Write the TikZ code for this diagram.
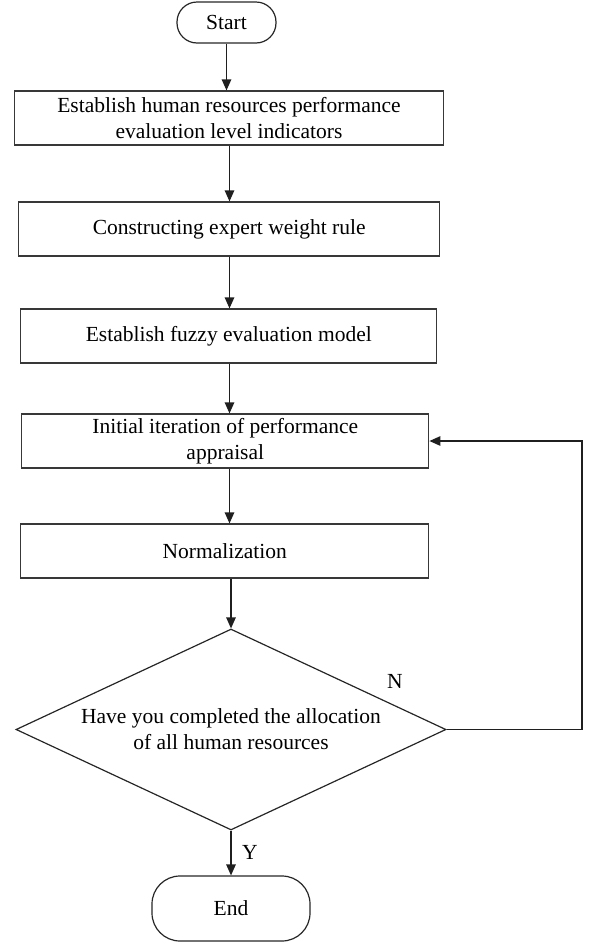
\documentclass[tikz,border=0pt]{standalone}
\usepackage{fontspec}
\setmainfont{Liberation Serif}
\usetikzlibrary{shapes.geometric,arrows.meta,calc}
\begin{document}
\begin{tikzpicture}[x=1pt,y=1pt,
  font=\fontsize{21.5}{26}\selectfont,
  line width=1.2pt,
  box/.style={draw=black!78, minimum height=54pt, inner sep=0pt, align=center},
  term/.style={draw=black!85, inner sep=0pt, align=center},
  arr/.style={draw=black!88, -{Triangle[length=11pt,width=9.5pt]}}]
\useasboundingbox (0,0) rectangle (590,-943);
\node[term, minimum width=99pt, minimum height=41pt, rounded corners=20pt] (start) at (226.5,-22.5) {Start};
\node[box, minimum width=429pt] (b1) at (229,-118) {Establish human resources performance\\evaluation level indicators};
\node[box, minimum width=421pt] (b2) at (229.2,-229) {Constructing expert weight rule};
\node[box, minimum width=416pt] (b3) at (228.8,-336) {Establish fuzzy evaluation model};
\node[box, minimum width=407pt] (b4) at (225.3,-441) {Initial iteration of performance\\appraisal};
\node[box, minimum width=408pt] (b5) at (224.8,-551) {Normalization};
\node[draw=black!85, diamond, minimum width=430pt, minimum height=201pt, aspect=2.14, inner sep=0pt, align=center] (d) at (231,-729.5) {Have you completed the allocation\\of all human resources};
\node[term, minimum width=158pt, minimum height=65pt, rounded corners=28pt] (end) at (231,-908.5) {End};
\node (nl) at (395,-681) {N};
\node (yl) at (250,-852) {Y};
\coordinate (ax) at (229.5,0);
\coordinate (lp) at (582,-441);
\draw[arr] (start.south) -- (start.south |- b1.north);
\draw[arr] (ax |- b1.south) -- (ax |- b2.north);
\draw[arr] (ax |- b2.south) -- (ax |- b3.north);
\draw[arr] (ax |- b3.south) -- (ax |- b4.north);
\draw[arr] (ax |- b4.south) -- (ax |- b5.north);
\draw[arr] (d.north |- b5.south) -- (d.north);
\draw[arr] (d.south) -- (end.north);
\draw[arr] (d.east) -| (lp) -- (b4.east);
\end{tikzpicture}
\end{document}
